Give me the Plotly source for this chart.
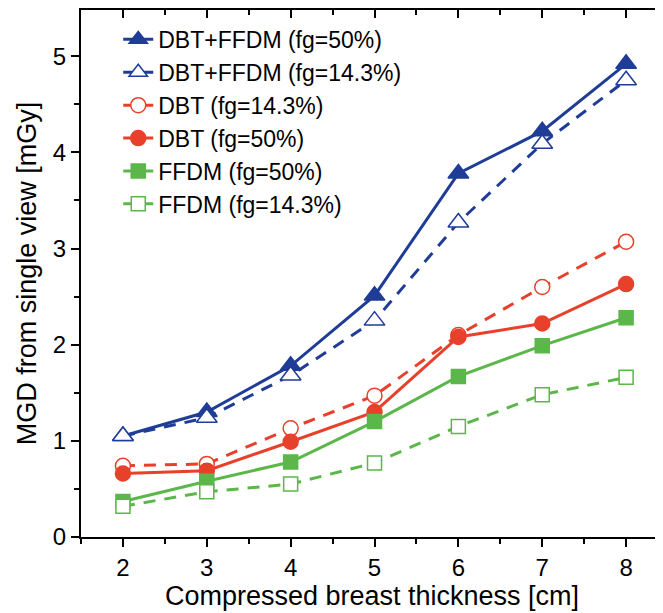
import plotly.graph_objects as go

thickness = [2, 3, 4, 5, 6, 7, 8]
dbt_ffdm_50 = [1.05, 1.30, 1.78, 2.51, 3.78, 4.22, 4.92]
dbt_ffdm_14 = [1.05, 1.24, 1.68, 2.25, 3.27, 4.09, 4.75]
dbt_14 = [0.74, 0.76, 1.13, 1.47, 2.10, 2.60, 3.07]
dbt_50 = [0.66, 0.69, 0.99, 1.30, 2.08, 2.22, 2.63]
ffdm_50 = [0.37, 0.58, 0.78, 1.20, 1.67, 1.99, 2.28]
ffdm_14 = [0.32, 0.47, 0.55, 0.77, 1.15, 1.48, 1.66]

names = ["DBT+FFDM (fg=50%)", "DBT+FFDM (fg=14.3%)", "DBT (fg=14.3%)",
         "DBT (fg=50%)", "FFDM (fg=50%)", "FFDM (fg=14.3%)"]
y_ticks = [0, 1, 2, 3, 4, 5]

BLUE = "#1f3d96"
RED = "#e8412b"
GREEN = "#5cb74a"

series = [
    (dbt_ffdm_50, names[0], BLUE, False, "triangle-up", True, 18),
    (dbt_ffdm_14, names[1], BLUE, True, "triangle-up", False, 18),
    (dbt_14, names[2], RED, True, "circle", False, 15),
    (dbt_50, names[3], RED, False, "circle", True, 15),
    (ffdm_50, names[4], GREEN, False, "square", True, 14),
    (ffdm_14, names[5], GREEN, True, "square", False, 14),
]

fig = go.Figure()
for ys, nm, col, dashed, sym, filled, sz in series:
    fig.add_trace(go.Scatter(
        x=thickness, y=ys, name=nm, mode="lines+markers",
        line=dict(color=col, width=3, dash="12px,9px" if dashed else "solid"),
        marker=dict(symbol=sym, size=sz, color=col if filled else "white",
                    line=dict(color=col, width=1.5)),
    ))

fig.add_trace(go.Scatter(x=[2], y=[0], xaxis="x2", yaxis="y2", showlegend=False,
                         mode="markers", marker=dict(opacity=0), hoverinfo="skip"))

font = "Liberation Sans, Arial, sans-serif"
xr = [1.5, 8.44]
yr = [0, 5.48]
common = dict(showgrid=False, zeroline=False, tickcolor="black", tickwidth=2, automargin=False)

# the page body adds an 8px offset, so the figure is 8px smaller than the window
fig.update_layout(
    width=655, height=605,
    margin=dict(l=73, r=0, t=2, b=76),
    plot_bgcolor="white", paper_bgcolor="white",
    font=dict(family=font, color="black"),
    xaxis=dict(range=xr, tickvals=thickness, ticks="outside", ticklen=8,
               showline=True, linecolor="black", linewidth=2,
               tickfont=dict(size=24), title=dict(text="Compressed breast thickness [cm]",
               font=dict(size=27), standoff=2),
               minor=dict(dtick=0.5, tick0=1.5, ticks="outside", ticklen=5, tickwidth=2, tickcolor="black"),
               **common),
    yaxis=dict(range=yr, tickvals=y_ticks, ticks="outside", ticklen=8,
               showline=True, linecolor="black", linewidth=2,
               tickfont=dict(size=24), title=dict(text="MGD from single view [mGy]",
               font=dict(size=27), standoff=8),
               minor=dict(dtick=0.5, tick0=0, ticks="outside", ticklen=5, tickwidth=2, tickcolor="black"),
               **common),
    xaxis2=dict(range=xr, overlaying="x", side="top", tickvals=thickness, ticks="inside",
                ticklen=8, showticklabels=False, showline=True, linecolor="black", linewidth=2,
                minor=dict(dtick=0.5, tick0=1.5, ticks="inside", ticklen=5, tickwidth=2, tickcolor="black"),
                **common),
    yaxis2=dict(range=yr, overlaying="y", side="right", tickvals=y_ticks, ticks="inside",
                ticklen=6, showticklabels=False, showline=False,
                minor=dict(dtick=0.5, tick0=0, ticks="inside", ticklen=6, tickwidth=2, tickcolor="black"),
                **common),
    legend=dict(x=0.064, y=0.985, xanchor="left", yanchor="top", bgcolor="rgba(0,0,0,0)",
                font=dict(size=23, family=font), tracegroupgap=0),
    showlegend=True,
)

fig.write_html("out.html")
